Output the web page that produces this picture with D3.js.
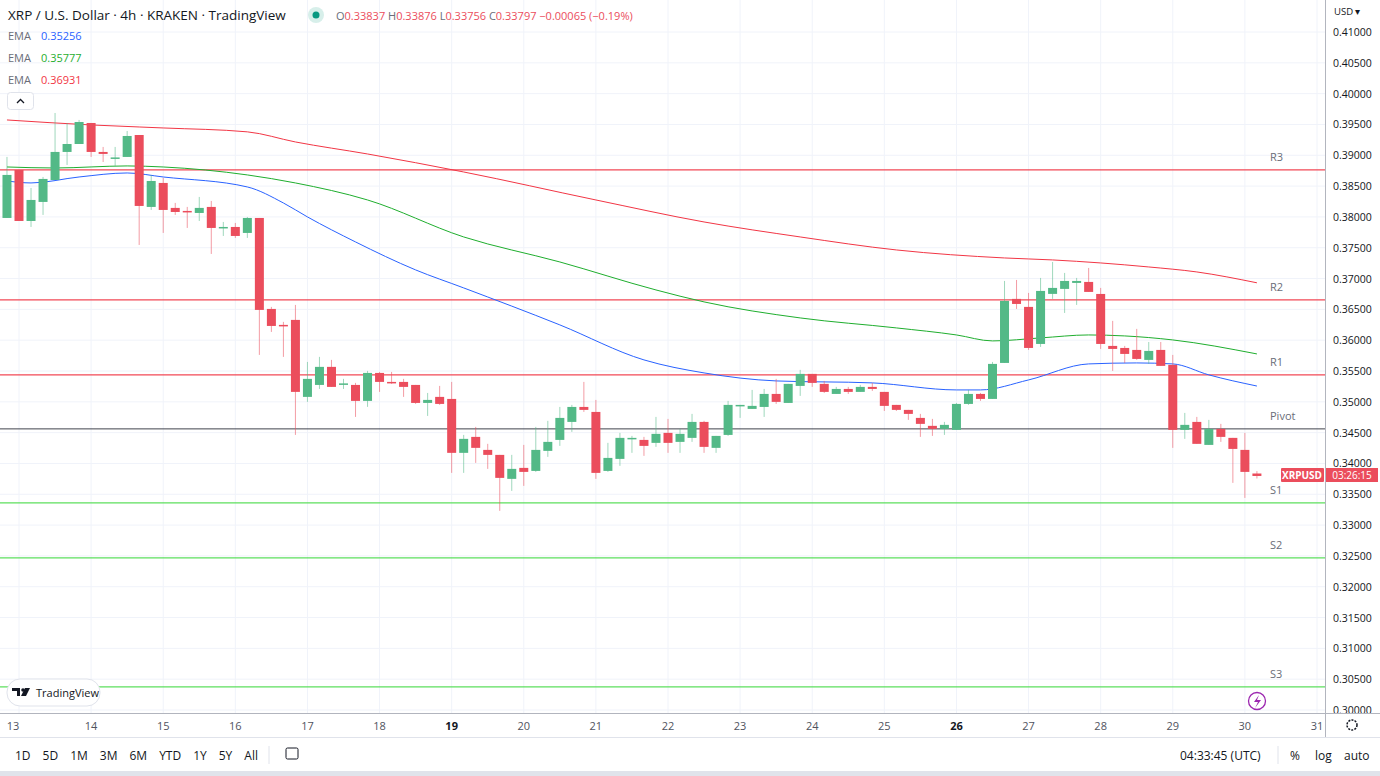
<!DOCTYPE html>
<html><head><meta charset="utf-8">
<script src="https://cdn.jsdelivr.net/npm/d3@7"></script>
<style>body{margin:0;background:#fff;font-family:"Open Sans",sans-serif;}svg{display:block}</style>
</head><body><svg id="c" width="1380" height="776"></svg>
<script>
// OHLC candles (4h), index 0..104
const opens  =[0.37983,0.38762,0.37934,0.38243,0.38599,0.39054,0.39183,0.39524,0.39054,0.38948,0.38973,0.39329,0.38162,0.38551,0.38146,0.38097,0.38064,0.38162,0.37821,0.37837,0.37740,0.37983,0.36507,0.36248,0.36329,0.35080,0.35274,0.35567,0.35290,0.35274,0.35015,0.35469,0.35323,0.35323,0.35274,0.34982,0.35080,0.35047,0.34172,0.34431,0.34220,0.34139,0.33750,0.33928,0.33879,0.34204,0.34382,0.34674,0.34917,0.34836,0.33879,0.34074,0.34399,0.34382,0.34334,0.34496,0.34350,0.34415,0.34674,0.34253,0.34463,0.34934,0.34885,0.34917,0.35128,0.34982,0.35258,0.35453,0.35291,0.35128,0.35209,0.35161,0.35242,0.35161,0.34950,0.34869,0.34739,0.34610,0.34561,0.34545,0.34966,0.35128,0.35047,0.35631,0.36670,0.36540,0.35939,0.36751,0.36832,0.36929,0.36945,0.36750,0.35907,0.35874,0.35842,0.35680,0.35842,0.35599,0.34545,0.34674,0.34301,0.34561,0.34415,0.34220,0.33837];
const highs  =[0.38973,0.38762,0.38470,0.38648,0.39686,0.39524,0.39573,0.39524,0.39135,0.39135,0.39394,0.39329,0.38681,0.38632,0.38227,0.38162,0.38324,0.38259,0.37918,0.37902,0.37999,0.37983,0.36540,0.36297,0.36572,0.35647,0.35729,0.35680,0.35372,0.35307,0.35502,0.35485,0.35485,0.35372,0.35274,0.35144,0.35258,0.35323,0.34463,0.34593,0.34318,0.34139,0.34139,0.34301,0.34593,0.34691,0.34917,0.34950,0.35323,0.35031,0.34334,0.34496,0.34447,0.34431,0.34755,0.34723,0.34561,0.34804,0.34691,0.34447,0.35015,0.34950,0.35193,0.35209,0.35372,0.35291,0.35518,0.35453,0.35339,0.35242,0.35242,0.35274,0.35307,0.35161,0.34950,0.34869,0.34804,0.34723,0.34674,0.34982,0.35193,0.35144,0.35647,0.36961,0.36977,0.36767,0.37010,0.37269,0.37091,0.37010,0.37172,0.36848,0.36313,0.35907,0.36183,0.35971,0.35971,0.35761,0.34820,0.34755,0.34707,0.34642,0.34415,0.34496,0.33876];
const lows   =[0.37983,0.37934,0.37837,0.38032,0.38599,0.38843,0.39183,0.38973,0.38891,0.38827,0.38973,0.37545,0.38113,0.37740,0.38032,0.37821,0.37934,0.37399,0.37691,0.37659,0.37659,0.35761,0.36134,0.35729,0.34463,0.34999,0.35209,0.35242,0.35209,0.34755,0.34918,0.35161,0.35291,0.35080,0.34966,0.34771,0.34950,0.33847,0.33847,0.34009,0.33912,0.33231,0.33555,0.33636,0.33863,0.34107,0.34285,0.34512,0.34836,0.33750,0.33863,0.33961,0.34172,0.34123,0.34269,0.34172,0.34172,0.34350,0.34172,0.34172,0.34447,0.34739,0.34885,0.34755,0.34966,0.34982,0.35096,0.35242,0.35144,0.35128,0.35128,0.35161,0.35177,0.34852,0.34852,0.34707,0.34431,0.34447,0.34463,0.34545,0.34950,0.35015,0.35047,0.35631,0.36507,0.35842,0.35890,0.36670,0.36442,0.36572,0.36783,0.35858,0.35501,0.35631,0.35680,0.35615,0.35583,0.34253,0.34399,0.34318,0.34301,0.34350,0.33685,0.33441,0.33756];
const closes =[0.38681,0.37934,0.38275,0.38616,0.39054,0.39183,0.39540,0.39054,0.39022,0.38965,0.39313,0.38178,0.38583,0.38113,0.38080,0.38080,0.38146,0.37821,0.37837,0.37691,0.37983,0.36491,0.36231,0.36231,0.35161,0.35372,0.35567,0.35242,0.35299,0.35015,0.35469,0.35323,0.35307,0.35242,0.34982,0.35031,0.34966,0.34172,0.34399,0.34253,0.34139,0.33766,0.33912,0.33863,0.34220,0.34350,0.34739,0.34917,0.34869,0.33847,0.34090,0.34415,0.34415,0.34285,0.34480,0.34334,0.34480,0.34674,0.34269,0.34447,0.34950,0.34950,0.34934,0.35128,0.34999,0.35291,0.35453,0.35307,0.35161,0.35209,0.35161,0.35242,0.35209,0.34934,0.34869,0.34804,0.34642,0.34561,0.34626,0.34966,0.35128,0.35047,0.35615,0.36637,0.36588,0.35874,0.36799,0.36848,0.36961,0.36961,0.36783,0.35939,0.35858,0.35777,0.35696,0.35826,0.35583,0.34545,0.34626,0.34318,0.34561,0.34431,0.34236,0.33863,0.33797];
// EMA samples [candle index, value]
const emaFast=[[0,0.38583],[2,0.38551],[6,0.38648],[10,0.38713],[13,0.38648],[20,0.38486],[23,0.38226],[25,0.38000],[29,0.37594],[34,0.37140],[38,0.36848],[46,0.36248],[53,0.35680],[58,0.35469],[64,0.35339],[72,0.35307],[79,0.35193],[81,0.35193],[85,0.35355],[90,0.35615],[94,0.35631],[97,0.35615],[100,0.35437],[104,0.35256]];
const emaMid =[[0,0.38810],[4,0.38794],[10,0.38827],[13,0.38810],[20,0.38681],[24,0.38551],[30,0.38275],[38,0.37675],[46,0.37269],[54,0.36815],[58,0.36621],[66,0.36361],[74,0.36199],[79,0.36085],[82,0.35988],[86,0.36037],[90,0.36085],[93,0.36069],[97,0.36004],[104,0.35777]];
const emaSlow=[[0,0.39573],[7,0.39492],[11,0.39459],[13,0.39443],[20,0.39380],[24,0.39216],[30,0.39021],[38,0.38729],[49,0.38275],[58,0.37918],[66,0.37675],[74,0.37464],[83,0.37334],[87,0.37302],[91,0.37253],[95,0.37188],[99,0.37107],[104,0.36931]];
const levelNames=["R3","R2","R1","Pivot","S1","S2","S3"];
const levelValues=[0.38762,0.36653,0.35437,0.34561,0.33360,0.32468,0.30376];
const dayLabels=[13,14,15,16,17,18,19,20,21,22,23,24,25,26,27,28,29,30,31];
const priceTicks=d3.range(0.300,0.4101,0.005);
const ranges=["1D","5D","1M","3M","6M","YTD","1Y","5Y","All"];

const svg=d3.select("#c");
const W=1380,H=776, plotR=1325, plotB=713;
const y=d3.scaleLinear().domain([0.30,0.41]).range([710,32]);
const xd=d3.scaleLinear().domain([0,18]).range([19,1317]);
const xc=i=>xd((i-1)/6);
const GREEN="#53b987", RED="#eb4d5c";

const g=svg.append("g");
g.selectAll(".hg").data(priceTicks).join("line").attr("x1",0).attr("x2",plotR).attr("y1",d=>y(d)).attr("y2",d=>y(d)).attr("stroke","#f0f3fa");
g.selectAll(".vg").data(dayLabels).join("line").attr("x1",(d,i)=>xd(i)).attr("x2",(d,i)=>xd(i)).attr("y1",0).attr("y2",plotB).attr("stroke","#f0f3fa");

levelValues.forEach((v,i)=>{
  const n=levelNames[i];
  const col=n[0]==="R"?"#f23645":(n==="Pivot"?"#131722":"#4cdd4c");
  g.append("line").attr("x1",0).attr("x2",plotR).attr("y1",y(v)).attr("y2",y(v)).attr("stroke",col).attr("stroke-width",n==="Pivot"?1:1.3).attr("opacity",n==="Pivot"?0.8:0.9);
  g.append("text").attr("x",1270).attr("y",y(v)-9).attr("font-size",11).attr("fill","#6a6d78").text(n);
});

const line=d3.line().x(d=>xc(d[0])).y(d=>y(d[1])).curve(d3.curveMonotoneX);
[[emaSlow,"#f23645"],[emaMid,"#1fae2e"],[emaFast,"#2962ff"]].forEach(([d,c])=>g.append("path").attr("d",line(d)).attr("fill","none").attr("stroke",c).attr("stroke-width",1));

const idx=d3.range(opens.length);
g.selectAll(".wk").data(idx).join("line").attr("x1",xc).attr("x2",xc).attr("y1",i=>y(highs[i])).attr("y2",i=>y(lows[i]))
 .attr("stroke",i=>closes[i]>=opens[i]?GREEN:RED).attr("opacity",0.55);
g.selectAll(".bd").data(idx).join("rect").attr("x",i=>xc(i)-4.5).attr("width",9)
 .attr("y",i=>y(Math.max(opens[i],closes[i]))).attr("height",i=>Math.max(1.5,Math.abs(y(opens[i])-y(closes[i]))))
 .attr("fill",i=>closes[i]>=opens[i]?GREEN:RED);

// right axis
svg.append("rect").attr("x",plotR).attr("y",0).attr("width",W-plotR).attr("height",plotB).attr("fill","#fff");
svg.append("line").attr("x1",plotR+0.5).attr("x2",plotR+0.5).attr("y1",0).attr("y2",737).attr("stroke","#b2b5be");
svg.selectAll(".pt").data(priceTicks.filter(d=>y(d)>20)).join("text").attr("x",1333).attr("y",d=>y(d)+4).attr("font-size",10.5).attr("fill","#131722").text(d=>d.toFixed(5));
svg.append("text").attr("x",1334).attr("y",15).attr("font-size",9.5).attr("fill","#131722").text("USD ▾");
svg.append("rect").attr("x",1281).attr("y",468).attr("width",43).attr("height",14).attr("fill",RED).attr("rx",1);
svg.append("text").attr("x",1302).attr("y",479).attr("text-anchor","middle").attr("font-size",10).attr("fill","#fff").attr("font-weight","bold").text("XRPUSD");
svg.append("rect").attr("x",1326).attr("y",468).attr("width",52).attr("height",14).attr("fill",RED);
svg.append("text").attr("x",1352).attr("y",479).attr("text-anchor","middle").attr("font-size",10).attr("fill","#fff").text("03:26:15");

// time axis
svg.append("line").attr("x1",0).attr("x2",W).attr("y1",plotB+0.5).attr("y2",plotB+0.5).attr("stroke","#b2b5be");
svg.selectAll(".dl").data(dayLabels).join("text").attr("x",(d,i)=>xd(i)-(i===0?6:0)).attr("y",730).attr("text-anchor","middle").attr("font-size",11)
 .attr("font-weight",d=>(d===19||d===26)?"bold":"normal").attr("fill",d=>(d===19||d===26)?"#131722":"#50535e").text(d=>d);
svg.append("circle").attr("cx",1352).attr("cy",725).attr("r",5).attr("fill","none").attr("stroke","#131722").attr("stroke-width",1.5).attr("stroke-dasharray","2,1.2");
// bottom toolbar
svg.append("line").attr("x1",0).attr("x2",W).attr("y1",737.5).attr("y2",737.5).attr("stroke","#e0e3eb");
svg.append("rect").attr("x",0).attr("y",771).attr("width",W).attr("height",5).attr("fill","#e0e3eb");
let bx=15;
ranges.forEach(r=>{const t=svg.append("text").attr("x",bx).attr("y",760).attr("font-size",12).attr("fill","#131722").text(r);bx+=t.node().getComputedTextLength()+12;});
svg.append("line").attr("x1",269).attr("x2",269).attr("y1",746).attr("y2",764).attr("stroke","#e0e3eb");
svg.append("rect").attr("x",286).attr("y",748).attr("width",12).attr("height",11).attr("fill","none").attr("stroke","#131722").attr("rx",1.5);
svg.append("text").attr("x",1180).attr("y",760).attr("font-size",12).attr("fill","#131722").text("04:33:45 (UTC)");
svg.append("text").attr("x",1290).attr("y",760).attr("font-size",12).attr("fill","#131722").text("%");
svg.append("text").attr("x",1315).attr("y",760).attr("font-size",12).attr("fill","#131722").text("log");
svg.append("text").attr("x",1344).attr("y",760).attr("font-size",12).attr("fill","#131722").text("auto");
svg.append("line").attr("x1",1278).attr("x2",1278).attr("y1",746).attr("y2",764).attr("stroke","#e0e3eb");

// header
svg.append("text").attr("x",8).attr("y",20).attr("font-size",13.5).attr("fill","#131722").text("XRP / U.S. Dollar · 4h · KRAKEN · TradingView");
svg.append("circle").attr("cx",316).attr("cy",15).attr("r",8).attr("fill","#d7efea");
svg.append("circle").attr("cx",316).attr("cy",15).attr("r",3.5).attr("fill","#089981");
const hdr=svg.append("text").attr("x",336).attr("y",20).attr("font-size",11).attr("fill",RED);
[["O","0.33837"],["H","0.33876"],["L","0.33756"],["C","0.33797"]].forEach(([a,b])=>{hdr.append("tspan").attr("fill","#6a6d78").text(a);hdr.append("tspan").text(b+" ");});
hdr.append("tspan").text("−0.00065 (−0.19%)");
[["0.35256","#2962ff"],["0.35777","#1fae2e"],["0.36931","#f23645"]].forEach(([v,c],i)=>{
  svg.append("text").attr("x",8).attr("y",40+i*22).attr("font-size",11).attr("fill","#6a6d78").text("EMA");
  svg.append("text").attr("x",41).attr("y",40+i*22).attr("font-size",11).attr("fill",c).text(v);
});
svg.append("rect").attr("x",7.5).attr("y",92.5).attr("width",26).attr("height",17).attr("rx",3).attr("fill","#fff").attr("stroke","#e0e3eb");
svg.append("path").attr("d","M17,103 L20.5,99.5 L24,103").attr("fill","none").attr("stroke","#131722").attr("stroke-width",1.3);
// logo
svg.append("rect").attr("x",7).attr("y",679).attr("width",93).attr("height",27).attr("rx",13).attr("fill","#fff").attr("stroke","#e0e3eb");
svg.append("path").attr("d","M12,688 h8 v8 h-3 v-5 h-5 Z M21,696 L25,688 L30,688 L26,696 Z").attr("fill","#131722");
svg.append("circle").attr("cx",23).attr("cy",690).attr("r",1.8).attr("fill","#131722");
svg.append("text").attr("x",36).attr("y",697).attr("font-size",11).attr("fill","#131722").text("TradingView");
svg.append("circle").attr("cx",1257).attr("cy",701).attr("r",8.5).attr("fill","#fff").attr("stroke","#9c27b0").attr("stroke-width",1.3);
svg.append("path").attr("d","M1259,695 L1254,702 L1258,702 L1255,708 L1261,700 L1257,700 Z").attr("fill","#9c27b0");
</script></body></html>
